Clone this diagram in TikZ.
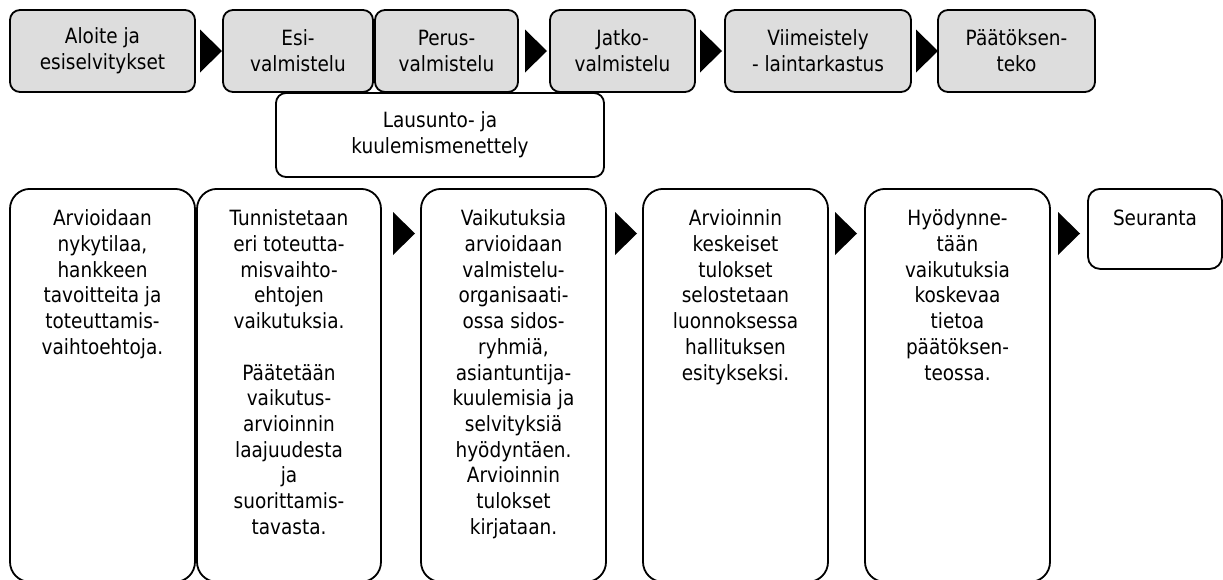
\documentclass[tikz,border=0pt]{standalone}
\usepackage{fontspec}
\setmainfont{DejaVu Sans}[FakeStretch=0.88]
\usepackage{tikz}
\usetikzlibrary{calc}
\definecolor{phasegray}{RGB}{221,221,221}

\begin{document}
\begin{tikzpicture}[x=1pt,y=1pt,font=\fontsize{21pt}{25.7pt}\selectfont]
    \newcommand{\tasktext}[3]{\parbox[t][#1][t]{#2}{\centering #3}}
    \newcommand{\chevron}[1]{\fill[black] ([yshift=21.5pt]#1) -- ([xshift=22pt]#1) -- ([yshift=-21.5pt]#1) -- cycle;}
    \tikzstyle{phase}=[
      draw=black,
      line width=1.8pt,
      rectangle,
      rounded corners=10pt,
      fill=phasegray,
      align=center,
      inner sep=0pt,
      minimum height=82pt,
    ]
    \tikzstyle{hearing}=[
      phase,
      fill=white,
      minimum height=84pt,
    ]
    \tikzstyle{task}=[
      draw=black,
      line width=1.8pt,
      rectangle,
      rounded corners=20pt,
      fill=white,
      anchor=north,
      inner xsep=5pt,
      inner ysep=21pt,
    ]
    \tikzstyle{followup}=[
      task,
      rounded corners=12pt,
    ]

    \useasboundingbox (0,0) rectangle (1223,-579);
    \clip (0,0) rectangle (1223,-579);

    \coordinate (phaseAnchor) at (0,-51);
    \coordinate (taskAnchor) at (0,-188);

    % preparation phases
    {
      \node[phase, minimum width=185pt] (phase1) at ([xshift=102.5pt] phaseAnchor) {Aloite ja\\esiselvitykset};
      \node[phase, minimum width=150pt] (phase2) at ([xshift=298pt] phaseAnchor) {Esi-\\valmistelu};
      \node[phase, minimum width=143pt] (phase3) at ([xshift=446.5pt] phaseAnchor) {Perus-\\valmistelu};
      \node[phase, minimum width=145pt] (phase4) at ([xshift=622.5pt] phaseAnchor) {Jatko-\\valmistelu};
      \node[phase, minimum width=186pt] (phase5) at ([xshift=818pt] phaseAnchor) {Viimeistely\\- laintarkastus};
      \node[phase, minimum width=157pt] (phase6) at ([xshift=1016.5pt] phaseAnchor) {Päätöksen-\\teko};

      \node[hearing, minimum width=328pt] (hearing1) at ([xshift=440pt, yshift=-84pt] phaseAnchor) {Lausunto- ja\\kuulemismenettely};

      \coordinate (phaseArrow1) at ([xshift=200pt] phaseAnchor);
      \coordinate (phaseArrow2) at ([xshift=525pt] phaseAnchor);
      \coordinate (phaseArrow3) at ([xshift=700pt] phaseAnchor);
      \coordinate (phaseArrow4) at ([xshift=916pt] phaseAnchor);

      \chevron{phaseArrow1}
      \chevron{phaseArrow2}
      \chevron{phaseArrow3}
      \chevron{phaseArrow4}
    }

    % impact assessment
    {
      \node[task] (task1) at ([xshift=102.5pt] taskAnchor) {\tasktext{351pt}{175pt}{Arvioidaan\\nykytilaa,\\hankkeen\\tavoitteita ja\\toteuttamis-\\vaihtoehtoja.}};
      \node[task] (task2) at ([xshift=289pt] taskAnchor) {\tasktext{351pt}{174pt}{Tunnistetaan\\eri toteutta-\\misvaihto-\\ehtojen\\vaikutuksia.\\[25.7pt]Päätetään\\vaikutus-\\arvioinnin\\laajuudesta\\ja\\suorittamis-\\tavasta.}};
      \node[task] (task3) at ([xshift=513.5pt] taskAnchor) {\tasktext{351pt}{175pt}{Vaikutuksia\\arvioidaan\\valmistelu-\\organisaati-\\ossa sidos-\\ryhmiä,\\asiantuntija-\\kuulemisia ja\\selvityksiä\\hyödyntäen.\\Arvioinnin\\tulokset\\kirjataan.}};
      \node[task] (task4) at ([xshift=735.5pt] taskAnchor) {\tasktext{351pt}{175pt}{Arvioinnin\\keskeiset\\tulokset\\selostetaan\\luonnoksessa\\hallituksen\\esitykseksi.}};
      \node[task] (task5) at ([xshift=957.5pt] taskAnchor) {\tasktext{351pt}{175pt}{Hyödynne-\\tään\\vaikutuksia\\koskevaa\\tietoa\\päätöksen-\\teossa.}};
      \node[followup] (task6) at ([xshift=1155pt] taskAnchor) {\tasktext{38pt}{124pt}{Seuranta}};

      \coordinate (taskArrow1) at ([xshift=393pt, yshift=-45.5pt] taskAnchor);
      \coordinate (taskArrow2) at ([xshift=615pt, yshift=-45.5pt] taskAnchor);
      \coordinate (taskArrow3) at ([xshift=835pt, yshift=-45.5pt] taskAnchor);
      \coordinate (taskArrow4) at ([xshift=1058pt, yshift=-45.5pt] taskAnchor);

      \chevron{taskArrow1}
      \chevron{taskArrow2}
      \chevron{taskArrow3}
      \chevron{taskArrow4}
    }
\end{tikzpicture}
\end{document}
